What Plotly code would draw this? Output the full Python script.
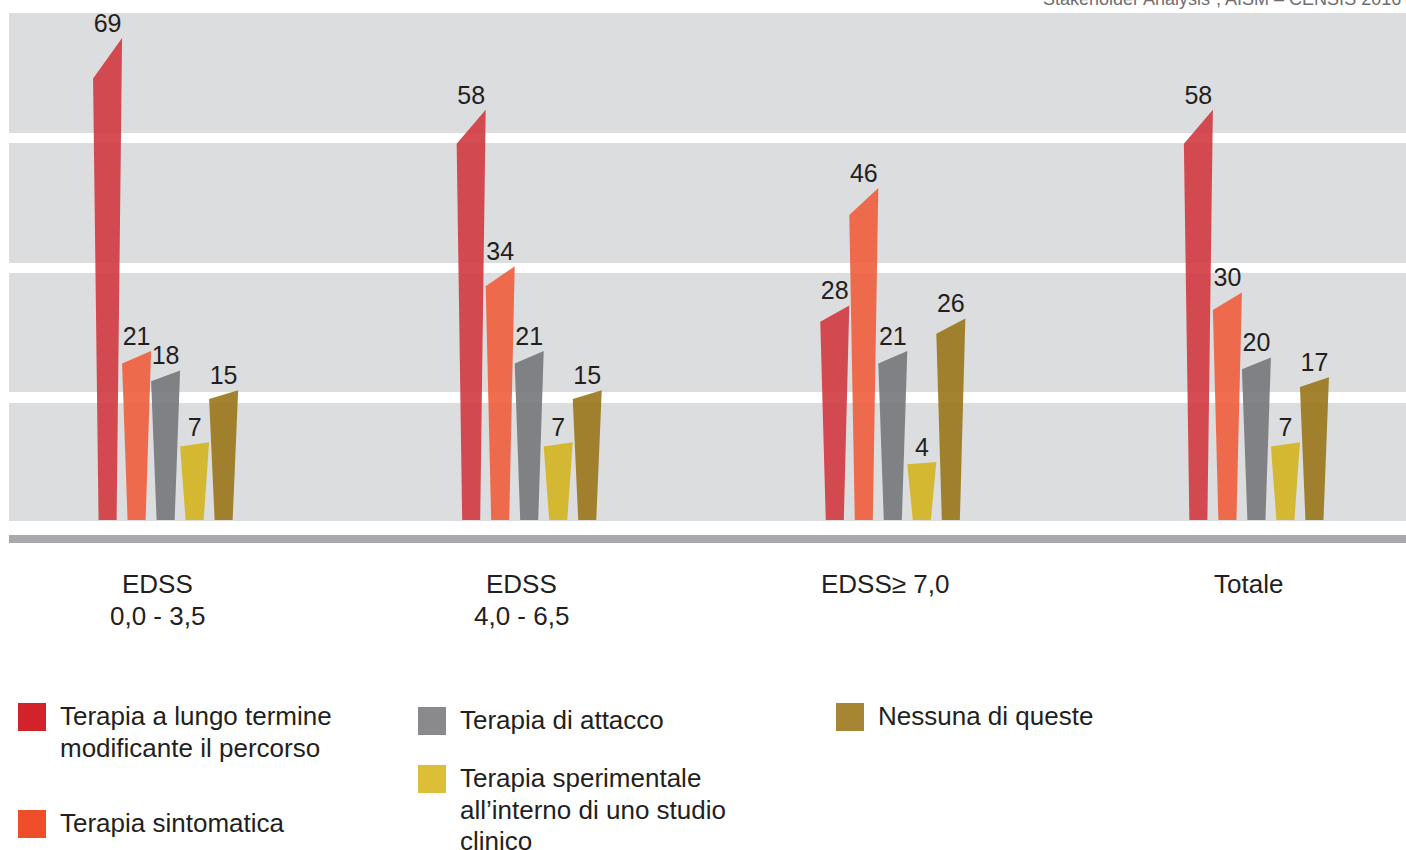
import plotly.graph_objects as go

categories = ["EDSS<br>0,0 - 3,5", "EDSS<br>4,0 - 6,5", "EDSS≥ 7,0", "Totale"]

series_names = [
    "Terapia a lungo termine<br>modificante il percorso",
    "Terapia sintomatica",
    "Terapia di attacco",
    "Terapia sperimentale<br>all’interno di uno studio<br>clinico",
    "Nessuna di queste",
]
lungo_termine = [69, 58, 28, 58]
sintomatica = [21, 34, 46, 30]
attacco = [18, 21, 21, 20]
sperimentale = [7, 7, 4, 7]
nessuna = [15, 15, 26, 17]
series_values = [lungo_termine, sintomatica, attacco, sperimentale, nessuna]

source_note = "“Stakeholder Analysis”, AISM – CENSIS 2016"

bar_colors = ["rgba(210,56,64,0.9)", "rgba(239,93,60,0.9)", "rgba(118,119,122,0.9)",
              "rgba(212,180,31,0.9)", "rgba(153,118,25,0.9)"]
legend_colors = ["#d2232a", "#f04e2b", "#8a8a8c", "#dcbf36", "#a68632"]

FONT = "Liberation Sans, Arial, sans-serif"
TXT = "#231f20"

# page geometry (pixels)
W, H = 1406, 850
L, T, B = 9, 13, 543          # plot area
def px(p):
    return (p - L) / (W - L)
def py(p):
    return (B - p) / (B - T)

BASE = -4.9          # bars start a little below zero
STEP = 0.0798        # bar spacing inside a group
HB, HT = 0.0248, 0.0399   # half widths at bottom / top
SLANT = 0.91

fig = go.Figure()

for k, vals in enumerate(series_values):
    off = (k - 2) * STEP
    xs, ys = [], []
    for i, v in enumerate(vals):
        c = i + off
        xs += [c - HB, c + HB, c + HT, c - HT, c - HB, None]
        ys += [BASE, BASE, v, v * SLANT, BASE, None]
    fig.add_trace(go.Scatter(x=xs, y=ys, fill="toself", mode="lines",
                             line=dict(width=0), fillcolor=bar_colors[k],
                             hoverinfo="skip", showlegend=False))

for k, vals in enumerate(series_values):
    off = (k - 2) * STEP
    fig.add_trace(go.Scatter(x=[i + off for i in range(len(vals))], y=vals,
                             mode="text", text=[str(v) for v in vals],
                             textposition="top center",
                             textfont=dict(size=25, color=TXT, family=FONT),
                             hoverinfo="skip", showlegend=False))

shapes = []
# background bands
for top, bot in [(13, 133), (143, 263), (273, 392), (403, 521)]:
    shapes.append(dict(type="rect", xref="paper", yref="paper", x0=0, x1=1,
                       y0=py(bot), y1=py(top), fillcolor="#dcdddf",
                       line=dict(width=0), layer="below"))
shapes.append(dict(type="rect", xref="paper", yref="paper", x0=0, x1=1,
                   y0=py(543), y1=py(535), fillcolor="#a7a9ac",
                   line=dict(width=0), layer="below"))

annotations = []
for i, cat in enumerate(categories):
    for j, line in enumerate(cat.split("<br>")):
        annotations.append(dict(x=i, y=py(584 + 32 * j), xref="x", yref="paper",
                                text=line, showarrow=False, xanchor="center",
                                yanchor="middle", xshift=-8,
                                font=dict(size=26, color=TXT, family=FONT)))

# legend blocks: square left/top, text left
legend_pos = [(18, 703, 58), (18, 810, 58), (418, 707, 458),
              (418, 765, 458), (836, 703, 876)]
for k, (sx, sy, tx) in enumerate(legend_pos):
    shapes.append(dict(type="rect", xref="paper", yref="paper",
                       x0=px(sx), x1=px(sx + 28), y0=py(sy + 28), y1=py(sy),
                       fillcolor=legend_colors[k], line=dict(width=0)))
    for j, line in enumerate(series_names[k].split("<br>")):
        annotations.append(dict(x=px(tx), y=py(sy + 13 + 31.5 * j),
                                xref="paper", yref="paper", text=line,
                                showarrow=False, xanchor="left", yanchor="middle",
                                font=dict(size=26, color=TXT, family=FONT)))

annotations.append(dict(x=px(1035), y=py(11), xref="paper", yref="paper",
                        text=source_note, showarrow=False, xanchor="left",
                        yanchor="bottom",
                        font=dict(size=18, color="#6d6e71", family=FONT)))

fig.update_layout(
    width=W, height=H,
    margin=dict(l=L, r=0, t=T, b=H - B),
    paper_bgcolor="white", plot_bgcolor="rgba(0,0,0,0)",
    xaxis=dict(range=[-0.4307, 3.4114], visible=False, fixedrange=True),
    yaxis=dict(range=[-8.44, 72.85], visible=False, fixedrange=True),
    shapes=shapes, annotations=annotations,
    font=dict(family=FONT, color=TXT),
    hovermode=False,
)

# drop the default page margin so the figure sits at the window corner
fig.write_html("out.html", config={"displayModeBar": False},
               post_script="document.body.style.margin='0';"
                           "document.body.style.overflow='hidden';")
